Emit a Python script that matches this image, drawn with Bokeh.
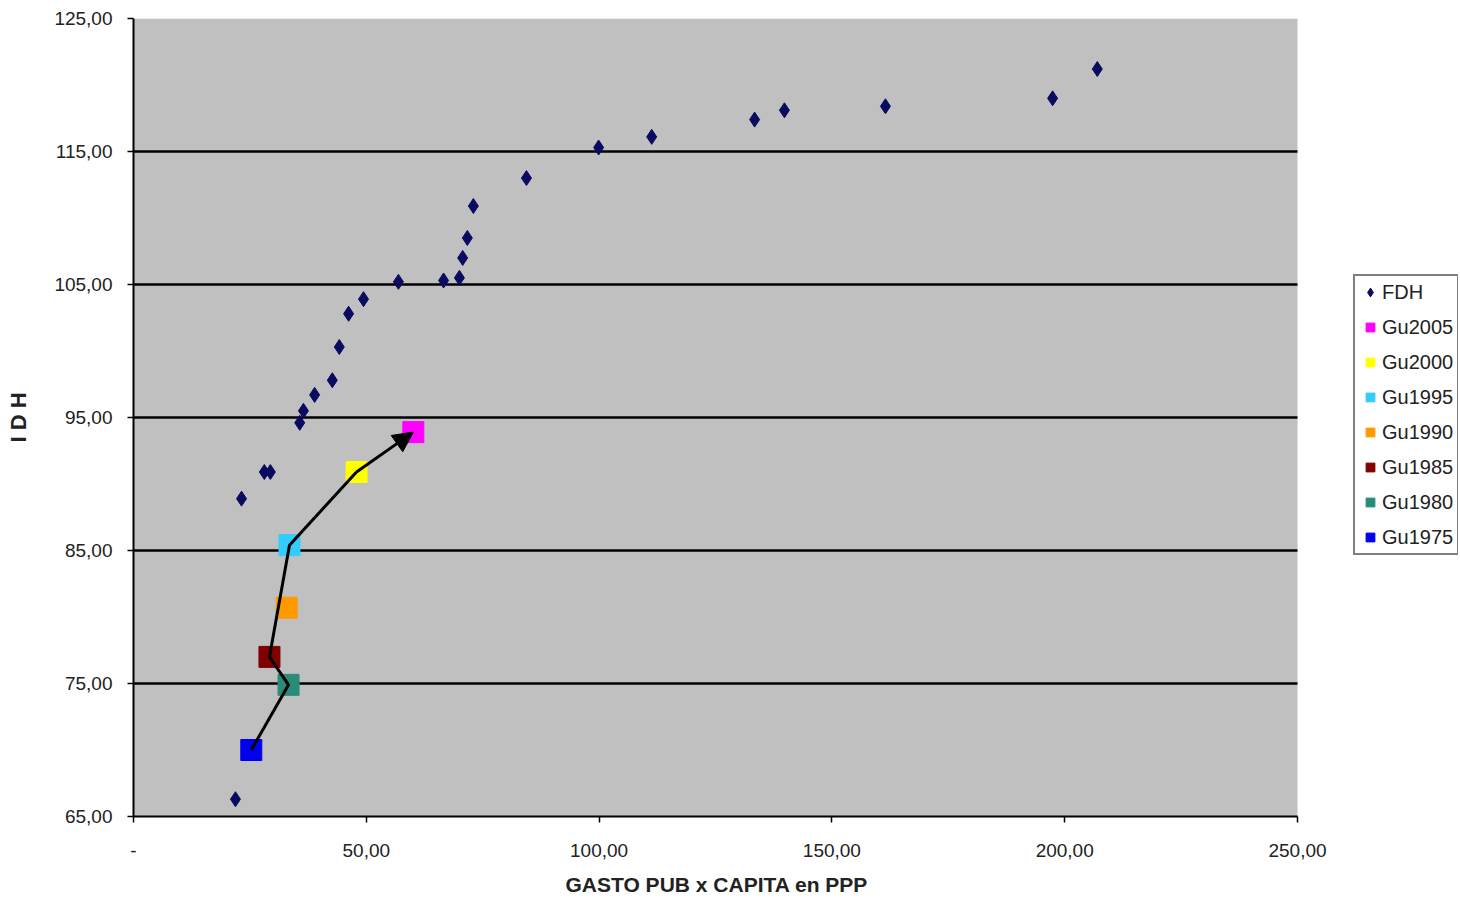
from bokeh.plotting import figure
from bokeh.models import (Range1d, FixedTicker, Legend, LegendItem, Arrow,
                          NormalHead, ColumnDataSource, BoxAnnotation, Title)
from bokeh.embed import file_html
from bokeh.resources import INLINE

# ---- data ----
fdh_x = [21.9, 23.2, 28.1, 29.4, 35.7, 36.5, 38.9, 42.7, 44.2, 46.2, 49.4, 56.9,
         66.6, 70.0, 70.7, 71.7, 73.0, 84.4, 99.9, 111.3, 133.4, 139.8, 161.5,
         197.4, 207.0]
fdh_y = [66.3, 88.9, 90.9, 90.9, 94.6, 95.5, 96.7, 97.8, 100.3, 102.8, 103.9, 105.2,
         105.3, 105.5, 107.0, 108.5, 110.9, 113.0, 115.3, 116.1, 117.4, 118.1, 118.4,
         119.0, 121.2]

gu_labels = ["Gu2005", "Gu2000", "Gu1995", "Gu1990", "Gu1985", "Gu1980", "Gu1975"]
gu_x = [60.1, 47.9, 33.5, 32.9, 29.2, 33.3, 25.3]
gu_y = [93.9, 90.9, 85.4, 80.7, 77.0, 74.9, 70.0]
gu_colors = ["#FF00FF", "#FFFF00", "#33CCFF", "#FF9900", "#800000", "#2A8C78", "#0000EE"]

# trajectory drawn by the arrow (chronological)
path_labels = ["Gu1975", "Gu1980", "Gu1985", "Gu1995", "Gu2000", "Gu2005"]

y_ticks = [65, 75, 85, 95, 105, 115, 125]
x_ticks = [0, 50, 100, 150, 200, 250]
x_tick_labels = ["-", "50,00", "100,00", "150,00", "200,00", "250,00"]
y_tick_labels = ["65,00", "75,00", "85,00", "95,00", "105,00", "115,00", "125,00"]

X_MIN, X_MAX = 0, 250
Y_MIN, Y_MAX = 65, 125

# layout (pixels)
W = 1458
LEFT = 133
PLOT_W = 1164          # width of the grey plotting area
# the frame extends to the right edge so that the legend can sit beside the grey area
x_end = X_MAX * (W - LEFT) / PLOT_W

# ---- figure ----
p = figure(width=W, height=907, output_backend="svg", toolbar_location=None,
           x_range=Range1d(X_MIN, x_end), y_range=Range1d(Y_MIN, Y_MAX),
           min_border_left=LEFT, min_border_right=0, min_border_top=18,
           min_border_bottom=0)
p.border_fill_color = "white"
p.background_fill_color = "white"
p.outline_line_color = None

# grey plotting area (0..250)
p.add_layout(BoxAnnotation(left=X_MIN, right=X_MAX, bottom=Y_MIN, top=Y_MAX,
                           fill_color="#C0C0C0", fill_alpha=1.0, line_color=None,
                           level="image"))

FONT = "Liberation Sans"

p.xaxis.ticker = FixedTicker(ticks=x_ticks)
p.yaxis.ticker = FixedTicker(ticks=y_ticks)
p.xaxis.bounds = (X_MIN, X_MAX)
p.xaxis.major_label_overrides = {t: l for t, l in zip(x_ticks, x_tick_labels)}
p.yaxis.major_label_overrides = {t: l for t, l in zip(y_ticks, y_tick_labels)}
for ax in (p.xaxis[0], p.yaxis[0]):
    ax.axis_line_color = "black"
    ax.axis_line_width = 2
    ax.major_tick_line_color = "black"
    ax.major_tick_line_width = 1.5
    ax.major_tick_out = 6
    ax.major_tick_in = 0
    ax.minor_tick_line_color = None
    ax.major_label_text_font = FONT
    ax.major_label_text_font_size = "19px"
    ax.major_label_text_color = "#222222"
    ax.axis_label_text_font = FONT
    ax.axis_label_text_font_style = "bold"
    ax.axis_label_text_color = "#222222"

p.xaxis.major_label_standoff = 21

# x-axis title, centred under the grey area
x_title = "GASTO PUB x  CAPITA en PPP"
p.add_layout(Title(text=x_title, align="left", offset=432, standoff=23,
                   text_font=FONT, text_font_size="21px", text_font_style="bold",
                   text_color="#222222"), "below")

p.yaxis.axis_label = "I D H"
p.yaxis.axis_label_text_font_size = "22px"
p.yaxis.major_label_standoff = 15
p.yaxis.axis_label_standoff = 20

p.xgrid.grid_line_color = None
p.ygrid.ticker = FixedTicker(ticks=y_ticks)
p.ygrid.cross_bounds = (X_MIN, X_MAX)
p.ygrid.grid_line_color = "black"
p.ygrid.grid_line_width = 2.5
p.ygrid.grid_line_alpha = 1.0

# ---- glyphs ----
r_fdh = p.scatter(fdh_x, fdh_y, marker="diamond", size=15, fill_color="#0A0A60",
                  line_color="#0A0A60")

gu_src = ColumnDataSource(dict(x=gu_x, y=gu_y, c=gu_colors, lab=gu_labels))
r_gu = p.scatter("x", "y", source=gu_src, marker="square", size=21,
                 fill_color="c", line_color="c")

px = [gu_x[gu_labels.index(l)] for l in path_labels]
py = [gu_y[gu_labels.index(l)] for l in path_labels]
p.line(px[:-1], py[:-1], line_color="black", line_width=3)
p.add_layout(Arrow(end=NormalHead(size=20, fill_color="black", line_color="black"),
                   x_start=px[-2], y_start=py[-2], x_end=px[-1], y_end=py[-1],
                   line_color="black", line_width=3))

# ---- legend ----
items = [LegendItem(label="FDH", renderers=[r_fdh], index=0)]
for i, lab in enumerate(gu_labels):
    items.append(LegendItem(label=lab, renderers=[r_gu], index=i))
legend = Legend(items=items, location=(1220, 261))
legend.padding = 4
legend.margin = 0
legend.spacing = 11
legend.glyph_width = 22
legend.glyph_height = 24
legend.label_height = 24
legend.label_standoff = 1
legend.label_text_font = FONT
legend.label_text_font_size = "20px"
legend.label_text_color = "#222222"
legend.border_line_color = "black"
legend.border_line_width = 2
legend.background_fill_color = "white"
legend.background_fill_alpha = 1.0
p.add_layout(legend, "center")

open("out.html", "w").write(file_html(p, INLINE))
